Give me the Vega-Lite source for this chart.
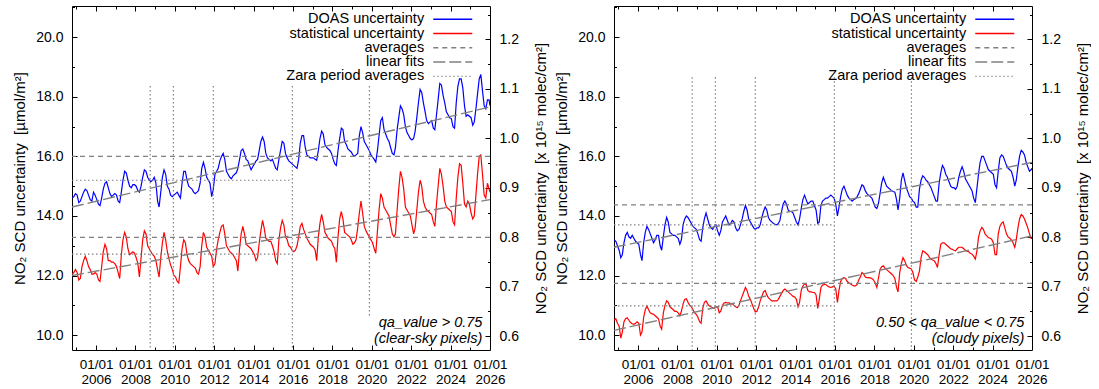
{
"$schema":"https://vega.github.io/schema/vega-lite/v6.json",
"background":"white",
"padding":{"left":12,"top":5,"right":0,"bottom":0},
"config":{"font":"Liberation Sans","view":{"stroke":"black","strokeWidth":1},
"axis":{"domain":false,"grid":false,"labelFont":"Liberation Sans","labelFontSize":14,"labelColor":"black","titleFont":"Liberation Sans","titleFontSize":15,"titleFontWeight":"normal","titleColor":"black","tickColor":"black","tickWidth":1},
"text":{"font":"Liberation Sans","color":"black"}},
"datasets":{
"L":[
{"d":"2004-10-15","a":14.6,"b":12.05},{"d":"2004-11-15","a":14.65,"b":12.1},{"d":"2004-12-15","a":14.75,"b":12.2},
{"d":"2005-01-15","a":14.7,"b":12.1},{"d":"2005-02-15","a":14.45,"b":11.85},{"d":"2005-03-15","a":14.5,"b":11.9},{"d":"2005-04-15","a":14.65,"b":12.3},{"d":"2005-05-15","a":14.8,"b":12.5},{"d":"2005-06-15","a":14.9,"b":12.65},{"d":"2005-07-15","a":14.85,"b":12.5},{"d":"2005-08-15","a":14.7,"b":12.3},{"d":"2005-09-15","a":14.55,"b":12.2},{"d":"2005-10-15","a":14.5,"b":12.05},{"d":"2005-11-15","a":14.8,"b":12.05},{"d":"2005-12-15","a":14.7,"b":12.1},
{"d":"2006-01-15","a":14.55,"b":12.05},{"d":"2006-02-15","a":14.4,"b":11.85},{"d":"2006-03-15","a":14.35,"b":11.8},{"d":"2006-04-15","a":14.6,"b":12.3},{"d":"2006-05-15","a":14.9,"b":12.8},{"d":"2006-06-15","a":15.1,"b":13.05},{"d":"2006-07-15","a":15.15,"b":12.9},{"d":"2006-08-15","a":14.95,"b":12.5},{"d":"2006-09-15","a":14.75,"b":12.5},{"d":"2006-10-15","a":14.65,"b":12.45},{"d":"2006-11-15","a":14.7,"b":12.45},{"d":"2006-12-15","a":14.75,"b":12.4},
{"d":"2007-01-15","a":14.7,"b":12.3},{"d":"2007-02-15","a":14.5,"b":12.1},{"d":"2007-03-15","a":14.45,"b":11.9},{"d":"2007-04-15","a":14.8,"b":12.7},{"d":"2007-05-15","a":15.2,"b":13.2},{"d":"2007-06-15","a":15.5,"b":13.45},{"d":"2007-07-15","a":15.45,"b":13.3},{"d":"2007-08-15","a":15.2,"b":12.9},{"d":"2007-09-15","a":15.0,"b":12.7},{"d":"2007-10-15","a":14.95,"b":12.75},{"d":"2007-11-15","a":15.05,"b":12.8},{"d":"2007-12-15","a":15.05,"b":12.75},
{"d":"2008-01-15","a":15.0,"b":12.6},{"d":"2008-02-15","a":14.85,"b":12.4},{"d":"2008-03-15","a":14.8,"b":11.95},{"d":"2008-04-15","a":15.0,"b":12.6},{"d":"2008-05-15","a":15.3,"b":13.2},{"d":"2008-06-15","a":15.55,"b":13.5},{"d":"2008-07-15","a":15.5,"b":13.4},{"d":"2008-08-15","a":15.3,"b":13.0},{"d":"2008-09-15","a":15.2,"b":12.9},{"d":"2008-10-15","a":15.15,"b":12.8},{"d":"2008-11-15","a":15.2,"b":12.7},{"d":"2008-12-15","a":15.3,"b":12.65},
{"d":"2009-01-15","a":15.1,"b":12.5},{"d":"2009-02-15","a":14.5,"b":12.2},{"d":"2009-03-15","a":14.3,"b":11.95},{"d":"2009-04-15","a":14.8,"b":12.6},{"d":"2009-05-15","a":15.3,"b":13.1},{"d":"2009-06-15","a":15.55,"b":13.45},{"d":"2009-07-15","a":15.4,"b":13.2},{"d":"2009-08-15","a":15.0,"b":12.8},{"d":"2009-09-15","a":14.9,"b":12.55},{"d":"2009-10-15","a":14.7,"b":12.35},{"d":"2009-11-15","a":14.65,"b":12.2},{"d":"2009-12-15","a":14.7,"b":12.0},
{"d":"2010-01-15","a":14.75,"b":11.95},{"d":"2010-02-15","a":14.8,"b":11.8},{"d":"2010-03-15","a":14.7,"b":11.75},{"d":"2010-04-15","a":14.6,"b":12.3},{"d":"2010-05-15","a":15.1,"b":12.9},{"d":"2010-06-15","a":15.5,"b":13.2},{"d":"2010-07-15","a":15.5,"b":13.1},{"d":"2010-08-15","a":15.2,"b":12.7},{"d":"2010-09-15","a":15.0,"b":12.5},{"d":"2010-10-15","a":14.95,"b":12.4},{"d":"2010-11-15","a":14.9,"b":12.35},{"d":"2010-12-15","a":14.8,"b":12.3},
{"d":"2011-01-15","a":14.75,"b":12.25},{"d":"2011-02-15","a":14.8,"b":12.1},{"d":"2011-03-15","a":14.85,"b":12.05},{"d":"2011-04-15","a":15.1,"b":12.3},{"d":"2011-05-15","a":15.6,"b":13.0},{"d":"2011-06-15","a":15.8,"b":13.45},{"d":"2011-07-15","a":15.6,"b":13.3},{"d":"2011-08-15","a":15.3,"b":12.95},{"d":"2011-09-15","a":15.2,"b":12.85},{"d":"2011-10-15","a":15.1,"b":12.75},{"d":"2011-11-15","a":14.65,"b":12.65},{"d":"2011-12-15","a":14.9,"b":12.3},
{"d":"2012-01-15","a":15.4,"b":12.4},{"d":"2012-02-15","a":15.5,"b":12.9},{"d":"2012-03-15","a":15.6,"b":13.2},{"d":"2012-04-15","a":15.85,"b":13.45},{"d":"2012-05-15","a":16.0,"b":13.65},{"d":"2012-06-15","a":16.1,"b":13.7},{"d":"2012-07-15","a":15.9,"b":13.4},{"d":"2012-08-15","a":15.5,"b":13.0},{"d":"2012-09-15","a":15.4,"b":12.9},{"d":"2012-10-15","a":15.3,"b":12.8},{"d":"2012-11-15","a":15.25,"b":12.75},{"d":"2012-12-15","a":15.35,"b":12.7},
{"d":"2013-01-15","a":15.4,"b":12.6},{"d":"2013-02-15","a":15.45,"b":12.5},{"d":"2013-03-15","a":15.6,"b":12.15},{"d":"2013-04-15","a":15.9,"b":12.9},{"d":"2013-05-15","a":16.2,"b":13.4},{"d":"2013-06-15","a":16.25,"b":13.65},{"d":"2013-07-15","a":16.1,"b":13.4},{"d":"2013-08-15","a":15.9,"b":13.05},{"d":"2013-09-15","a":15.85,"b":13.0},{"d":"2013-10-15","a":15.7,"b":12.95},{"d":"2013-11-15","a":15.55,"b":12.9},{"d":"2013-12-15","a":15.65,"b":12.8},
{"d":"2014-01-15","a":15.75,"b":12.7},{"d":"2014-02-15","a":15.85,"b":12.5},{"d":"2014-03-15","a":15.9,"b":12.6},{"d":"2014-04-15","a":16.2,"b":13.1},{"d":"2014-05-15","a":16.5,"b":13.5},{"d":"2014-06-15","a":16.65,"b":13.85},{"d":"2014-07-15","a":16.5,"b":13.6},{"d":"2014-08-15","a":16.1,"b":13.25},{"d":"2014-09-15","a":15.95,"b":13.2},{"d":"2014-10-15","a":15.9,"b":13.15},{"d":"2014-11-15","a":15.85,"b":13.15},{"d":"2014-12-15","a":15.9,"b":13.0},
{"d":"2015-01-15","a":15.75,"b":12.8},{"d":"2015-02-15","a":15.6,"b":12.5},{"d":"2015-03-15","a":15.55,"b":12.4},{"d":"2015-04-15","a":15.9,"b":13.2},{"d":"2015-05-15","a":16.2,"b":13.6},{"d":"2015-06-15","a":16.5,"b":13.85},{"d":"2015-07-15","a":16.45,"b":13.7},{"d":"2015-08-15","a":16.1,"b":13.3},{"d":"2015-09-15","a":15.95,"b":13.2},{"d":"2015-10-15","a":15.85,"b":13.0},{"d":"2015-11-15","a":15.8,"b":12.95},{"d":"2015-12-15","a":15.75,"b":12.85},
{"d":"2016-01-15","a":15.7,"b":12.8},{"d":"2016-02-15","a":15.65,"b":12.85},{"d":"2016-03-15","a":15.6,"b":13.0},{"d":"2016-04-15","a":15.9,"b":13.3},{"d":"2016-05-15","a":16.45,"b":13.65},{"d":"2016-06-15","a":16.7,"b":13.75},{"d":"2016-07-15","a":16.7,"b":13.55},{"d":"2016-08-15","a":16.3,"b":13.4},{"d":"2016-09-15","a":16.05,"b":13.25},{"d":"2016-10-15","a":16.0,"b":13.15},{"d":"2016-11-15","a":15.95,"b":13.05},{"d":"2016-12-15","a":15.95,"b":13.0},
{"d":"2017-01-15","a":15.95,"b":12.95},{"d":"2017-02-15","a":15.9,"b":12.85},{"d":"2017-03-15","a":15.87,"b":12.5},{"d":"2017-04-15","a":16.2,"b":13.3},{"d":"2017-05-15","a":16.6,"b":13.75},{"d":"2017-06-15","a":16.85,"b":14.05},{"d":"2017-07-15","a":16.75,"b":13.8},{"d":"2017-08-15","a":16.4,"b":13.45},{"d":"2017-09-15","a":16.3,"b":13.35},{"d":"2017-10-15","a":16.25,"b":13.25},{"d":"2017-11-15","a":16.2,"b":13.2},{"d":"2017-12-15","a":16.1,"b":13.15},
{"d":"2018-01-15","a":15.9,"b":13.0},{"d":"2018-02-15","a":15.75,"b":12.9},{"d":"2018-03-15","a":15.7,"b":12.45},{"d":"2018-04-15","a":16.2,"b":13.3},{"d":"2018-05-15","a":16.6,"b":13.9},{"d":"2018-06-15","a":16.95,"b":14.15},{"d":"2018-07-15","a":16.9,"b":13.9},{"d":"2018-08-15","a":16.5,"b":13.45},{"d":"2018-09-15","a":16.4,"b":13.4},{"d":"2018-10-15","a":16.25,"b":13.35},{"d":"2018-11-15","a":16.2,"b":13.3},{"d":"2018-12-15","a":16.15,"b":13.2},
{"d":"2019-01-15","a":16.05,"b":13.05},{"d":"2019-02-15","a":16.0,"b":13.1},{"d":"2019-03-15","a":16.05,"b":13.2},{"d":"2019-04-15","a":16.1,"b":13.6},{"d":"2019-05-15","a":16.7,"b":14.1},{"d":"2019-06-15","a":17.0,"b":14.5},{"d":"2019-07-15","a":16.8,"b":14.1},{"d":"2019-08-15","a":16.5,"b":13.65},{"d":"2019-09-15","a":16.4,"b":13.5},{"d":"2019-10-15","a":16.3,"b":13.4},{"d":"2019-11-15","a":16.2,"b":13.3},{"d":"2019-12-15","a":16.05,"b":13.2},
{"d":"2020-01-15","a":15.98,"b":13.1},{"d":"2020-02-15","a":15.9,"b":12.9},{"d":"2020-03-15","a":15.81,"b":12.75},{"d":"2020-04-15","a":16.2,"b":13.5},{"d":"2020-05-15","a":16.7,"b":14.2},{"d":"2020-06-15","a":17.2,"b":14.75},{"d":"2020-07-15","a":17.3,"b":14.6},{"d":"2020-08-15","a":16.9,"b":14.3},{"d":"2020-09-15","a":16.75,"b":14.2},{"d":"2020-10-15","a":16.6,"b":14.1},{"d":"2020-11-15","a":16.5,"b":14.0},{"d":"2020-12-15","a":16.3,"b":13.7},
{"d":"2021-01-15","a":16.1,"b":13.4},{"d":"2021-02-15","a":16.05,"b":13.3},{"d":"2021-03-15","a":16.3,"b":13.4},{"d":"2021-04-15","a":16.9,"b":14.2},{"d":"2021-05-15","a":17.3,"b":14.9},{"d":"2021-06-15","a":17.7,"b":15.5},{"d":"2021-07-15","a":17.6,"b":15.3},{"d":"2021-08-15","a":17.4,"b":14.9},{"d":"2021-09-15","a":17.0,"b":14.3},{"d":"2021-10-15","a":16.8,"b":14.2},{"d":"2021-11-15","a":16.7,"b":14.1},{"d":"2021-12-15","a":16.6,"b":14.0},
{"d":"2022-01-15","a":16.55,"b":13.7},{"d":"2022-02-15","a":16.6,"b":13.4},{"d":"2022-03-15","a":16.85,"b":13.6},{"d":"2022-04-15","a":17.3,"b":14.2},{"d":"2022-05-15","a":17.8,"b":14.8},{"d":"2022-06-15","a":18.25,"b":15.2},{"d":"2022-07-15","a":18.15,"b":15.0},{"d":"2022-08-15","a":17.8,"b":14.5},{"d":"2022-09-15","a":17.5,"b":14.3},{"d":"2022-10-15","a":17.2,"b":14.2},{"d":"2022-11-15","a":17.1,"b":14.15},{"d":"2022-12-15","a":17.15,"b":14.1},
{"d":"2023-01-15","a":17.2,"b":14.05},{"d":"2023-02-15","a":16.95,"b":13.8},{"d":"2023-03-15","a":16.9,"b":13.65},{"d":"2023-04-15","a":17.4,"b":14.4},{"d":"2023-05-15","a":17.9,"b":15.0},{"d":"2023-06-15","a":18.45,"b":15.6},{"d":"2023-07-15","a":18.4,"b":15.4},{"d":"2023-08-15","a":18.05,"b":15.0},{"d":"2023-09-15","a":17.8,"b":14.5},{"d":"2023-10-15","a":17.5,"b":14.3},{"d":"2023-11-15","a":17.4,"b":14.25},{"d":"2023-12-15","a":17.3,"b":14.2},
{"d":"2024-01-15","a":17.27,"b":14.15},{"d":"2024-02-15","a":17.0,"b":13.8},{"d":"2024-03-15","a":16.95,"b":13.7},{"d":"2024-04-15","a":17.8,"b":14.6},{"d":"2024-05-15","a":18.35,"b":15.3},{"d":"2024-06-15","a":18.6,"b":15.75},{"d":"2024-07-15","a":18.6,"b":15.7},{"d":"2024-08-15","a":18.3,"b":15.1},{"d":"2024-09-15","a":17.7,"b":14.4},{"d":"2024-10-15","a":17.35,"b":14.3},{"d":"2024-11-15","a":17.4,"b":14.5},{"d":"2024-12-15","a":17.35,"b":14.4},
{"d":"2025-01-15","a":17.3,"b":14.1},{"d":"2025-02-15","a":17.05,"b":13.9},{"d":"2025-03-15","a":17.15,"b":14.0},{"d":"2025-04-15","a":17.6,"b":14.7},{"d":"2025-05-15","a":18.1,"b":15.4},{"d":"2025-06-15","a":18.6,"b":16.0},{"d":"2025-07-15","a":18.75,"b":16.05},{"d":"2025-08-15","a":18.2,"b":15.4},{"d":"2025-09-15","a":17.7,"b":14.7},{"d":"2025-10-15","a":17.6,"b":14.6},{"d":"2025-11-15","a":17.9,"b":15.1},{"d":"2025-12-15","a":17.9,"b":14.9},
{"d":"2026-01-01","a":17.7,"b":14.8}
],
"R":[
{"d":"2004-10-15","a":13.2,"b":10.5},{"d":"2004-11-15","a":13.15,"b":10.55},{"d":"2004-12-15","a":13.0,"b":10.4},
{"d":"2005-01-15","a":12.85,"b":10.3},{"d":"2005-02-15","a":12.6,"b":9.9},{"d":"2005-03-15","a":12.7,"b":10.1},{"d":"2005-04-15","a":13.1,"b":10.45},{"d":"2005-05-15","a":13.35,"b":10.55},{"d":"2005-06-15","a":13.45,"b":10.58},{"d":"2005-07-15","a":13.3,"b":10.5},{"d":"2005-08-15","a":13.25,"b":10.42},{"d":"2005-09-15","a":13.35,"b":10.38},{"d":"2005-10-15","a":13.25,"b":10.36},{"d":"2005-11-15","a":13.15,"b":10.4},{"d":"2005-12-15","a":13.1,"b":10.45},
{"d":"2006-01-15","a":13.05,"b":10.4},{"d":"2006-02-15","a":12.7,"b":10.0},{"d":"2006-03-15","a":12.5,"b":10.1},{"d":"2006-04-15","a":13.1,"b":10.6},{"d":"2006-05-15","a":13.45,"b":10.85},{"d":"2006-06-15","a":13.65,"b":10.98},{"d":"2006-07-15","a":13.55,"b":10.85},{"d":"2006-08-15","a":13.4,"b":10.75},{"d":"2006-09-15","a":13.25,"b":10.72},{"d":"2006-10-15","a":13.1,"b":10.7},{"d":"2006-11-15","a":13.2,"b":10.65},{"d":"2006-12-15","a":13.35,"b":10.6},
{"d":"2007-01-15","a":13.35,"b":10.55},{"d":"2007-02-15","a":13.0,"b":10.3},{"d":"2007-03-15","a":12.85,"b":10.2},{"d":"2007-04-15","a":13.3,"b":10.75},{"d":"2007-05-15","a":13.7,"b":11.0},{"d":"2007-06-15","a":13.95,"b":11.15},{"d":"2007-07-15","a":13.8,"b":11.1},{"d":"2007-08-15","a":13.45,"b":10.95},{"d":"2007-09-15","a":13.4,"b":10.9},{"d":"2007-10-15","a":13.35,"b":10.85},{"d":"2007-11-15","a":13.35,"b":10.8},{"d":"2007-12-15","a":13.3,"b":10.8},
{"d":"2008-01-15","a":13.25,"b":10.75},{"d":"2008-02-15","a":13.05,"b":10.65},{"d":"2008-03-15","a":13.2,"b":10.8},{"d":"2008-04-15","a":13.7,"b":11.05},{"d":"2008-05-15","a":13.9,"b":11.2},{"d":"2008-06-15","a":14.0,"b":11.22},{"d":"2008-07-15","a":13.95,"b":11.1},{"d":"2008-08-15","a":13.85,"b":11.0},{"d":"2008-09-15","a":13.75,"b":10.95},{"d":"2008-10-15","a":13.65,"b":10.85},{"d":"2008-11-15","a":13.6,"b":10.75},{"d":"2008-12-15","a":13.55,"b":10.7},
{"d":"2009-01-15","a":13.4,"b":10.6},{"d":"2009-02-15","a":13.2,"b":10.45},{"d":"2009-03-15","a":13.15,"b":10.4},{"d":"2009-04-15","a":13.6,"b":10.9},{"d":"2009-05-15","a":13.9,"b":11.1},{"d":"2009-06-15","a":14.1,"b":11.15},{"d":"2009-07-15","a":13.9,"b":11.05},{"d":"2009-08-15","a":13.7,"b":10.98},{"d":"2009-09-15","a":13.6,"b":10.95},{"d":"2009-10-15","a":13.55,"b":10.92},{"d":"2009-11-15","a":13.65,"b":10.9},{"d":"2009-12-15","a":13.7,"b":10.95},
{"d":"2010-01-15","a":13.5,"b":10.95},{"d":"2010-02-15","a":13.35,"b":10.75},{"d":"2010-03-15","a":13.5,"b":10.8},{"d":"2010-04-15","a":13.8,"b":11.0},{"d":"2010-05-15","a":13.9,"b":11.08},{"d":"2010-06-15","a":14.0,"b":11.1},{"d":"2010-07-15","a":13.85,"b":11.08},{"d":"2010-08-15","a":13.7,"b":11.08},{"d":"2010-09-15","a":13.75,"b":11.05},{"d":"2010-10-15","a":13.85,"b":11.05},{"d":"2010-11-15","a":13.8,"b":11.0},{"d":"2010-12-15","a":13.6,"b":10.95},
{"d":"2011-01-15","a":13.5,"b":10.92},{"d":"2011-02-15","a":13.55,"b":11.0},{"d":"2011-03-15","a":13.7,"b":11.15},{"d":"2011-04-15","a":13.9,"b":11.3},{"d":"2011-05-15","a":14.15,"b":11.45},{"d":"2011-06-15","a":14.35,"b":11.6},{"d":"2011-07-15","a":14.2,"b":11.5},{"d":"2011-08-15","a":13.9,"b":11.3},{"d":"2011-09-15","a":13.8,"b":11.2},{"d":"2011-10-15","a":13.7,"b":11.05},{"d":"2011-11-15","a":13.6,"b":10.9},{"d":"2011-12-15","a":13.55,"b":10.78},
{"d":"2012-01-15","a":13.6,"b":10.8},{"d":"2012-02-15","a":13.6,"b":10.95},{"d":"2012-03-15","a":13.7,"b":11.15},{"d":"2012-04-15","a":13.95,"b":11.3},{"d":"2012-05-15","a":14.15,"b":11.45},{"d":"2012-06-15","a":14.3,"b":11.5},{"d":"2012-07-15","a":14.2,"b":11.35},{"d":"2012-08-15","a":13.95,"b":11.25},{"d":"2012-09-15","a":13.85,"b":11.2},{"d":"2012-10-15","a":13.8,"b":11.15},{"d":"2012-11-15","a":13.75,"b":11.15},{"d":"2012-12-15","a":13.72,"b":11.15},
{"d":"2013-01-15","a":13.7,"b":11.15},{"d":"2013-02-15","a":13.75,"b":11.2},{"d":"2013-03-15","a":13.85,"b":11.3},{"d":"2013-04-15","a":14.15,"b":11.4},{"d":"2013-05-15","a":14.4,"b":11.5},{"d":"2013-06-15","a":14.5,"b":11.55},{"d":"2013-07-15","a":14.4,"b":11.5},{"d":"2013-08-15","a":14.2,"b":11.45},{"d":"2013-09-15","a":14.15,"b":11.4},{"d":"2013-10-15","a":14.15,"b":11.35},{"d":"2013-11-15","a":14.1,"b":11.3},{"d":"2013-12-15","a":13.95,"b":11.28},
{"d":"2014-01-15","a":13.8,"b":11.2},{"d":"2014-02-15","a":13.7,"b":10.95},{"d":"2014-03-15","a":13.9,"b":11.1},{"d":"2014-04-15","a":14.25,"b":11.5},{"d":"2014-05-15","a":14.55,"b":11.65},{"d":"2014-06-15","a":14.7,"b":11.72},{"d":"2014-07-15","a":14.55,"b":11.7},{"d":"2014-08-15","a":14.4,"b":11.5},{"d":"2014-09-15","a":14.45,"b":11.45},{"d":"2014-10-15","a":14.5,"b":11.45},{"d":"2014-11-15","a":14.5,"b":11.43},{"d":"2014-12-15","a":14.35,"b":11.43},
{"d":"2015-01-15","a":14.2,"b":11.35},{"d":"2015-02-15","a":13.75,"b":10.9},{"d":"2015-03-15","a":13.8,"b":11.2},{"d":"2015-04-15","a":14.35,"b":11.6},{"d":"2015-05-15","a":14.5,"b":11.68},{"d":"2015-06-15","a":14.55,"b":11.7},{"d":"2015-07-15","a":14.6,"b":11.7},{"d":"2015-08-15","a":14.6,"b":11.65},{"d":"2015-09-15","a":14.65,"b":11.62},{"d":"2015-10-15","a":14.7,"b":11.6},{"d":"2015-11-15","a":14.65,"b":11.62},{"d":"2015-12-15","a":14.6,"b":11.65},
{"d":"2016-01-15","a":14.4,"b":11.55},{"d":"2016-02-15","a":14.0,"b":11.1},{"d":"2016-03-15","a":14.3,"b":11.5},{"d":"2016-04-15","a":14.65,"b":11.8},{"d":"2016-05-15","a":14.9,"b":11.9},{"d":"2016-06-15","a":15.0,"b":11.93},{"d":"2016-07-15","a":14.85,"b":11.9},{"d":"2016-08-15","a":14.7,"b":11.8},{"d":"2016-09-15","a":14.6,"b":11.75},{"d":"2016-10-15","a":14.55,"b":11.72},{"d":"2016-11-15","a":14.5,"b":11.68},{"d":"2016-12-15","a":14.55,"b":11.65},
{"d":"2017-01-15","a":14.58,"b":11.65},{"d":"2017-02-15","a":14.65,"b":11.7},{"d":"2017-03-15","a":14.75,"b":11.85},{"d":"2017-04-15","a":14.9,"b":11.95},{"d":"2017-05-15","a":15.05,"b":12.1},{"d":"2017-06-15","a":15.0,"b":12.05},{"d":"2017-07-15","a":14.85,"b":11.95},{"d":"2017-08-15","a":14.75,"b":11.93},{"d":"2017-09-15","a":14.7,"b":11.93},{"d":"2017-10-15","a":14.65,"b":11.92},{"d":"2017-11-15","a":14.6,"b":11.9},{"d":"2017-12-15","a":14.45,"b":11.85},
{"d":"2018-01-15","a":14.3,"b":11.75},{"d":"2018-02-15","a":14.25,"b":11.6},{"d":"2018-03-15","a":14.4,"b":11.9},{"d":"2018-04-15","a":14.75,"b":12.2},{"d":"2018-05-15","a":15.1,"b":12.3},{"d":"2018-06-15","a":15.3,"b":12.33},{"d":"2018-07-15","a":15.15,"b":12.25},{"d":"2018-08-15","a":15.0,"b":12.2},{"d":"2018-09-15","a":14.95,"b":12.15},{"d":"2018-10-15","a":14.9,"b":12.1},{"d":"2018-11-15","a":14.85,"b":12.05},{"d":"2018-12-15","a":14.82,"b":12.0},
{"d":"2019-01-15","a":14.8,"b":11.9},{"d":"2019-02-15","a":14.55,"b":11.6},{"d":"2019-03-15","a":14.2,"b":11.45},{"d":"2019-04-15","a":14.6,"b":12.1},{"d":"2019-05-15","a":15.2,"b":12.4},{"d":"2019-06-15","a":15.45,"b":12.6},{"d":"2019-07-15","a":15.2,"b":12.5},{"d":"2019-08-15","a":14.95,"b":12.35},{"d":"2019-09-15","a":14.8,"b":12.27},{"d":"2019-10-15","a":14.65,"b":12.25},{"d":"2019-11-15","a":14.6,"b":12.22},{"d":"2019-12-15","a":14.5,"b":12.1},
{"d":"2020-01-15","a":14.45,"b":11.85},{"d":"2020-02-15","a":14.3,"b":11.8},{"d":"2020-03-15","a":14.3,"b":11.95},{"d":"2020-04-15","a":14.9,"b":12.15},{"d":"2020-05-15","a":15.2,"b":12.6},{"d":"2020-06-15","a":15.35,"b":12.83},{"d":"2020-07-15","a":15.3,"b":12.8},{"d":"2020-08-15","a":15.2,"b":12.75},{"d":"2020-09-15","a":15.15,"b":12.7},{"d":"2020-10-15","a":15.05,"b":12.62},{"d":"2020-11-15","a":14.95,"b":12.55},{"d":"2020-12-15","a":14.8,"b":12.52},
{"d":"2021-01-15","a":14.65,"b":12.5},{"d":"2021-02-15","a":14.5,"b":12.4},{"d":"2021-03-15","a":14.5,"b":12.27},{"d":"2021-04-15","a":15.1,"b":12.7},{"d":"2021-05-15","a":15.45,"b":13.05},{"d":"2021-06-15","a":15.7,"b":13.1},{"d":"2021-07-15","a":15.6,"b":13.1},{"d":"2021-08-15","a":15.4,"b":13.05},{"d":"2021-09-15","a":15.3,"b":13.0},{"d":"2021-10-15","a":15.15,"b":12.95},{"d":"2021-11-15","a":15.0,"b":12.9},{"d":"2021-12-15","a":14.95,"b":12.88},
{"d":"2022-01-15","a":14.95,"b":12.85},{"d":"2022-02-15","a":14.9,"b":12.83},{"d":"2022-03-15","a":15.0,"b":12.9},{"d":"2022-04-15","a":15.3,"b":12.95},{"d":"2022-05-15","a":15.5,"b":12.95},{"d":"2022-06-15","a":15.65,"b":12.95},{"d":"2022-07-15","a":15.5,"b":12.9},{"d":"2022-08-15","a":15.25,"b":12.85},{"d":"2022-09-15","a":15.15,"b":12.82},{"d":"2022-10-15","a":15.05,"b":12.8},{"d":"2022-11-15","a":14.95,"b":12.75},{"d":"2022-12-15","a":14.85,"b":12.72},
{"d":"2023-01-15","a":14.6,"b":12.65},{"d":"2023-02-15","a":14.45,"b":12.55},{"d":"2023-03-15","a":14.9,"b":12.8},{"d":"2023-04-15","a":15.4,"b":13.28},{"d":"2023-05-15","a":15.8,"b":13.5},{"d":"2023-06-15","a":16.0,"b":13.62},{"d":"2023-07-15","a":16.0,"b":13.55},{"d":"2023-08-15","a":15.85,"b":13.4},{"d":"2023-09-15","a":15.7,"b":13.33},{"d":"2023-10-15","a":15.55,"b":13.28},{"d":"2023-11-15","a":15.5,"b":13.25},{"d":"2023-12-15","a":15.45,"b":13.22},
{"d":"2024-01-15","a":15.4,"b":13.1},{"d":"2024-02-15","a":15.05,"b":12.7},{"d":"2024-03-15","a":14.95,"b":12.7},{"d":"2024-04-15","a":15.5,"b":13.4},{"d":"2024-05-15","a":15.95,"b":13.65},{"d":"2024-06-15","a":16.05,"b":13.75},{"d":"2024-07-15","a":16.0,"b":13.8},{"d":"2024-08-15","a":15.85,"b":13.6},{"d":"2024-09-15","a":15.7,"b":13.4},{"d":"2024-10-15","a":15.6,"b":13.3},{"d":"2024-11-15","a":15.55,"b":13.25},{"d":"2024-12-15","a":15.5,"b":13.2},
{"d":"2025-01-15","a":15.3,"b":13.1},{"d":"2025-02-15","a":15.0,"b":12.95},{"d":"2025-03-15","a":15.2,"b":13.2},{"d":"2025-04-15","a":15.65,"b":13.6},{"d":"2025-05-15","a":16.0,"b":13.9},{"d":"2025-06-15","a":16.2,"b":14.05},{"d":"2025-07-15","a":16.15,"b":14.0},{"d":"2025-08-15","a":16.05,"b":13.9},{"d":"2025-09-15","a":15.8,"b":13.75},{"d":"2025-10-15","a":15.65,"b":13.6},{"d":"2025-11-15","a":15.5,"b":13.4},{"d":"2025-12-15","a":15.55,"b":13.25},
{"d":"2026-01-01","a":15.6,"b":13.25}
],
"ONE":[{}]
},
"spacing":5,
"hconcat":[
{
"width":418,"height":344,
"layer":[
{"data":{"name":"L"},"mark":{"type":"line","color":"#0000ff","strokeWidth":1.2,"clip":true},
"encoding":{"x":{"field":"d","type":"temporal","scale":{"type":"utc","domain":[1097539200000,1767225600000]},"axis":{"orient":"bottom","values":[1136073600000,1199145600000,1262304000000,1325376000000,1388534400000,1451606400000,1514764800000,1577836800000,1640995200000,1704067200000,1767225600000],"ticks":false,"labelExpr":"['01/01', utcFormat(datum.value, '%Y')]","labelFontSize":13.5,"labelPadding":7,"labelLineHeight":15,"labelFlush":false,"labelOverlap":false,"labelBaseline":"top","title":null}},
"y":{"field":"a","type":"quantitative","scale":{"domain":[9.5,21.05],"nice":false,"zero":false},"axis":{"orient":"left","values":[10,12,14,16,18,20],"format":".1f","ticks":false,"labelPadding":9,"title":"NO₂ SCD uncertainty\u00a0 [µmol/m²]","titlePadding":8}}}},
{"data":{"name":"L"},"mark":{"type":"line","color":"#ff0000","strokeWidth":1.2,"clip":true},
"encoding":{"x":{"field":"d","type":"temporal","axis":null},"y":{"field":"b","type":"quantitative","axis":null}}},
{"data":{"values":[{"v":16.0},{"v":13.28}]},"mark":{"type":"rule","color":"#808080","strokeWidth":1.3,"strokeDash":[5,4]},
"encoding":{"y":{"field":"v","type":"quantitative","axis":null}}},
{"data":{"values":[{"d":"2004-10-12","d2":"2015-12-20","v":15.2},{"d":"2004-10-12","d2":"2015-12-20","v":12.72}],"format":{"parse":{"d":"utc:'%Y-%m-%d'","d2":"utc:'%Y-%m-%d'"}}},"mark":{"type":"rule","color":"#808080","strokeWidth":1.2,"strokeDash":[1.5,2.5]},
"encoding":{"x":{"field":"d","type":"temporal","axis":null},"x2":{"field":"d2"},"y":{"field":"v","type":"quantitative","axis":null}}},
{"data":{"values":[{"k":"a","d":"2004-10-12","v":14.3},{"k":"a","d":"2026-01-01","v":17.66},{"k":"b","d":"2004-10-12","v":12.0},{"k":"b","d":"2026-01-01","v":14.55}],"format":{"parse":{"d":"utc:'%Y-%m-%d'"}}},"mark":{"type":"line","color":"#808080","strokeWidth":1.4,"strokeDash":[12,4]},
"encoding":{"x":{"field":"d","type":"temporal","axis":null},"y":{"field":"v","type":"quantitative","axis":null},"detail":{"field":"k"}}},
{"data":{"values":[{"d":"2008-10-01","t":18.36,"u":9.5},{"d":"2009-12-05","t":18.36,"u":9.5},{"d":"2011-12-15","t":18.36,"u":9.5},{"d":"2015-12-20","t":18.36,"u":9.5},{"d":"2019-11-18","t":18.36,"u":10.64}],"format":{"parse":{"d":"utc:'%Y-%m-%d'"}}},"mark":{"type":"rule","color":"#808080","strokeWidth":1.2,"strokeDash":[1.5,2.5]},
"encoding":{"x":{"field":"d","type":"temporal","axis":null},"y":{"field":"t","type":"quantitative","axis":null},"y2":{"field":"u"}}},
{"data":{"name":"ONE"},"mark":{"type":"text","align":"right","baseline":"top","dx":-7.6,"fontSize":14.5,"fontStyle":"italic","lineHeight":15.5,"text":["qa_value > 0.75","(clear-sky pixels)"]},
"encoding":{"x":{"datum":1767225600000,"type":"temporal","axis":null},"y":{"datum":10.63,"type":"quantitative","axis":null}}},
{"data":{"name":"ONE"},"mark":{"type":"point","opacity":0},
"encoding":{"x":{"datum":1451606400000,"type":"temporal","axis":{"orient":"bottom","values":[1136073600000,1199145600000,1262304000000,1325376000000,1388534400000,1451606400000,1514764800000,1577836800000,1640995200000,1704067200000],"labels":false,"tickSize":-5,"title":null}},
"y":{"datum":15,"type":"quantitative","axis":{"orient":"left","values":[10,12,14,16,18,20],"labels":false,"tickSize":-5,"title":null}}}},
{"data":{"name":"ONE"},"mark":{"type":"point","opacity":0},
"encoding":{"x":{"datum":1451606400000,"type":"temporal","axis":{"orient":"bottom","values":[1104537600000,1167609600000,1230768000000,1293840000000,1356998400000,1420070400000,1483228800000,1546300800000,1609459200000,1672531200000,1735689600000],"labels":false,"tickSize":-3,"title":null}},
"y":{"datum":15,"type":"quantitative","axis":{"orient":"left","values":[11,13,15,17,19,21],"labels":false,"tickSize":-2.5,"title":null}}}},
{"data":{"name":"ONE"},"mark":{"type":"point","opacity":0},
"encoding":{"x":{"datum":1451606400000,"type":"temporal","axis":{"orient":"top","values":[1136073600000,1199145600000,1262304000000,1325376000000,1388534400000,1451606400000,1514764800000,1577836800000,1640995200000,1704067200000],"labels":false,"tickSize":-5,"title":null}},
"y":{"datum":15,"type":"quantitative","axis":{"orient":"right","values":[9.9635,11.624,13.2846,14.9452,16.6058,18.2663,19.9269],"labels":false,"tickSize":-5,"title":null}}}},
{"data":{"name":"ONE"},"mark":{"type":"point","opacity":0},
"encoding":{"x":{"datum":1451606400000,"type":"temporal","axis":{"orient":"top","values":[1104537600000,1167609600000,1230768000000,1293840000000,1356998400000,1420070400000,1483228800000,1546300800000,1609459200000,1672531200000,1735689600000],"labels":false,"tickSize":-3,"title":null}},
"y":{"datum":15,"type":"quantitative","axis":{"orient":"right","values":[10.7937,12.4543,14.1149,15.7755,17.4361,19.0966,20.7572],"labels":false,"tickSize":-2.5,"title":null}}}},
{"data":{"name":"ONE"},"mark":{"type":"point","opacity":0},
"encoding":{"x":{"datum":1451606400000,"type":"temporal","axis":null},
"y":{"datum":15,"type":"quantitative","axis":{"orient":"right","values":[9.9635,11.624,13.2846,14.9452,16.6058,18.2663,19.9269],"labelExpr":"format(datum.value * 0.06022, '.1f')","ticks":false,"labelPadding":9,"title":"NO₂ SCD uncertainty\u00a0 [x 10¹⁵ molec/cm²]","titleAngle":270,"titleBaseline":"top","titlePadding":15}}}},
{"data":{"name":"ONE"},"mark":{"type":"rule","color":"#0000ff","strokeWidth":1.3},"encoding":{"x":{"datum":1676332800000,"type":"temporal","axis":null},"x2":{"datum":1738800000000},"y":{"datum":20.605,"type":"quantitative","axis":null}}},
{"data":{"name":"ONE"},"mark":{"type":"rule","color":"#ff0000","strokeWidth":1.3},"encoding":{"x":{"datum":1676332800000,"type":"temporal","axis":null},"x2":{"datum":1738800000000},"y":{"datum":20.126,"type":"quantitative","axis":null}}},
{"data":{"name":"ONE"},"mark":{"type":"rule","color":"#808080","strokeWidth":1.3,"strokeDash":[5,4]},"encoding":{"x":{"datum":1676332800000,"type":"temporal","axis":null},"x2":{"datum":1738800000000},"y":{"datum":19.648,"type":"quantitative","axis":null}}},
{"data":{"name":"ONE"},"mark":{"type":"rule","color":"#808080","strokeWidth":1.4,"strokeDash":[12,4]},"encoding":{"x":{"datum":1676332800000,"type":"temporal","axis":null},"x2":{"datum":1738800000000},"y":{"datum":19.169,"type":"quantitative","axis":null}}},
{"data":{"name":"ONE"},"mark":{"type":"rule","color":"#808080","strokeWidth":1.2,"strokeDash":[1.5,2.5]},"encoding":{"x":{"datum":1676332800000,"type":"temporal","axis":null},"x2":{"datum":1738800000000},"y":{"datum":18.691,"type":"quantitative","axis":null}}},
{"data":{"name":"ONE"},"mark":{"type":"text","align":"right","baseline":"middle","fontSize":14.5,"lineHeight":14.25,"text":["DOAS uncertainty","statistical uncertainty","averages","linear fits","Zara period averages"]},
"encoding":{"x":{"datum":1661731200000,"type":"temporal","axis":null},"y":{"datum":20.605,"type":"quantitative","axis":null}}}
],
"resolve":{"axis":{"x":"independent","y":"independent"}}
},
{
"width":418,"height":344,
"layer":[
{"data":{"name":"R"},"mark":{"type":"line","color":"#0000ff","strokeWidth":1.2,"clip":true},
"encoding":{"x":{"field":"d","type":"temporal","scale":{"type":"utc","domain":[1097539200000,1767225600000]},"axis":{"orient":"bottom","values":[1136073600000,1199145600000,1262304000000,1325376000000,1388534400000,1451606400000,1514764800000,1577836800000,1640995200000,1704067200000,1767225600000],"ticks":false,"labelExpr":"['01/01', utcFormat(datum.value, '%Y')]","labelFontSize":13.5,"labelPadding":7,"labelLineHeight":15,"labelFlush":false,"labelOverlap":false,"labelBaseline":"top","title":null}},
"y":{"field":"a","type":"quantitative","scale":{"domain":[9.5,21.05],"nice":false,"zero":false},"axis":{"orient":"left","values":[10,12,14,16,18,20],"format":".1f","ticks":false,"labelPadding":9,"title":"NO₂ SCD uncertainty\u00a0 [µmol/m²]","titlePadding":8}}}},
{"data":{"name":"R"},"mark":{"type":"line","color":"#ff0000","strokeWidth":1.2,"clip":true},
"encoding":{"x":{"field":"d","type":"temporal","axis":null},"y":{"field":"b","type":"quantitative","axis":null}}},
{"data":{"values":[{"v":14.37},{"v":11.74}]},"mark":{"type":"rule","color":"#808080","strokeWidth":1.3,"strokeDash":[5,4]},
"encoding":{"y":{"field":"v","type":"quantitative","axis":null}}},
{"data":{"values":[{"d":"2004-10-12","d2":"2015-12-20","v":13.7},{"d":"2004-10-12","d2":"2015-12-20","v":10.98}],"format":{"parse":{"d":"utc:'%Y-%m-%d'","d2":"utc:'%Y-%m-%d'"}}},"mark":{"type":"rule","color":"#808080","strokeWidth":1.2,"strokeDash":[1.5,2.5]},
"encoding":{"x":{"field":"d","type":"temporal","axis":null},"x2":{"field":"d2"},"y":{"field":"v","type":"quantitative","axis":null}}},
{"data":{"values":[{"k":"a","d":"2004-10-12","v":12.95},{"k":"a","d":"2026-01-01","v":15.8},{"k":"b","d":"2004-10-12","v":10.16},{"k":"b","d":"2026-01-01","v":13.33}],"format":{"parse":{"d":"utc:'%Y-%m-%d'"}}},"mark":{"type":"line","color":"#808080","strokeWidth":1.4,"strokeDash":[12,4]},
"encoding":{"x":{"field":"d","type":"temporal","axis":null},"y":{"field":"v","type":"quantitative","axis":null},"detail":{"field":"k"}}},
{"data":{"values":[{"d":"2008-10-01","t":18.66,"u":9.5},{"d":"2009-12-05","t":18.66,"u":9.5},{"d":"2011-12-15","t":18.66,"u":9.5},{"d":"2015-12-20","t":18.66,"u":9.5},{"d":"2019-11-18","t":18.66,"u":9.5}],"format":{"parse":{"d":"utc:'%Y-%m-%d'"}}},"mark":{"type":"rule","color":"#808080","strokeWidth":1.2,"strokeDash":[1.5,2.5]},
"encoding":{"x":{"field":"d","type":"temporal","axis":null},"y":{"field":"t","type":"quantitative","axis":null},"y2":{"field":"u"}}},
{"data":{"name":"ONE"},"mark":{"type":"text","align":"right","baseline":"top","dx":-7.6,"fontSize":14.5,"fontStyle":"italic","lineHeight":15.5,"text":["0.50 < qa_value < 0.75","(cloudy pixels)"]},
"encoding":{"x":{"datum":1767225600000,"type":"temporal","axis":null},"y":{"datum":10.63,"type":"quantitative","axis":null}}},
{"data":{"name":"ONE"},"mark":{"type":"point","opacity":0},
"encoding":{"x":{"datum":1451606400000,"type":"temporal","axis":{"orient":"bottom","values":[1136073600000,1199145600000,1262304000000,1325376000000,1388534400000,1451606400000,1514764800000,1577836800000,1640995200000,1704067200000],"labels":false,"tickSize":-5,"title":null}},
"y":{"datum":15,"type":"quantitative","axis":{"orient":"left","values":[10,12,14,16,18,20],"labels":false,"tickSize":-5,"title":null}}}},
{"data":{"name":"ONE"},"mark":{"type":"point","opacity":0},
"encoding":{"x":{"datum":1451606400000,"type":"temporal","axis":{"orient":"bottom","values":[1104537600000,1167609600000,1230768000000,1293840000000,1356998400000,1420070400000,1483228800000,1546300800000,1609459200000,1672531200000,1735689600000],"labels":false,"tickSize":-3,"title":null}},
"y":{"datum":15,"type":"quantitative","axis":{"orient":"left","values":[11,13,15,17,19,21],"labels":false,"tickSize":-2.5,"title":null}}}},
{"data":{"name":"ONE"},"mark":{"type":"point","opacity":0},
"encoding":{"x":{"datum":1451606400000,"type":"temporal","axis":{"orient":"top","values":[1136073600000,1199145600000,1262304000000,1325376000000,1388534400000,1451606400000,1514764800000,1577836800000,1640995200000,1704067200000],"labels":false,"tickSize":-5,"title":null}},
"y":{"datum":15,"type":"quantitative","axis":{"orient":"right","values":[9.9635,11.624,13.2846,14.9452,16.6058,18.2663,19.9269],"labels":false,"tickSize":-5,"title":null}}}},
{"data":{"name":"ONE"},"mark":{"type":"point","opacity":0},
"encoding":{"x":{"datum":1451606400000,"type":"temporal","axis":{"orient":"top","values":[1104537600000,1167609600000,1230768000000,1293840000000,1356998400000,1420070400000,1483228800000,1546300800000,1609459200000,1672531200000,1735689600000],"labels":false,"tickSize":-3,"title":null}},
"y":{"datum":15,"type":"quantitative","axis":{"orient":"right","values":[10.7937,12.4543,14.1149,15.7755,17.4361,19.0966,20.7572],"labels":false,"tickSize":-2.5,"title":null}}}},
{"data":{"name":"ONE"},"mark":{"type":"point","opacity":0},
"encoding":{"x":{"datum":1451606400000,"type":"temporal","axis":null},
"y":{"datum":15,"type":"quantitative","axis":{"orient":"right","values":[9.9635,11.624,13.2846,14.9452,16.6058,18.2663,19.9269],"labelExpr":"format(datum.value * 0.06022, '.1f')","ticks":false,"labelPadding":9,"title":"NO₂ SCD uncertainty\u00a0 [x 10¹⁵ molec/cm²]","titleAngle":270,"titleBaseline":"top","titlePadding":15}}}},
{"data":{"name":"ONE"},"mark":{"type":"rule","color":"#0000ff","strokeWidth":1.3},"encoding":{"x":{"datum":1676332800000,"type":"temporal","axis":null},"x2":{"datum":1738800000000},"y":{"datum":20.605,"type":"quantitative","axis":null}}},
{"data":{"name":"ONE"},"mark":{"type":"rule","color":"#ff0000","strokeWidth":1.3},"encoding":{"x":{"datum":1676332800000,"type":"temporal","axis":null},"x2":{"datum":1738800000000},"y":{"datum":20.126,"type":"quantitative","axis":null}}},
{"data":{"name":"ONE"},"mark":{"type":"rule","color":"#808080","strokeWidth":1.3,"strokeDash":[5,4]},"encoding":{"x":{"datum":1676332800000,"type":"temporal","axis":null},"x2":{"datum":1738800000000},"y":{"datum":19.648,"type":"quantitative","axis":null}}},
{"data":{"name":"ONE"},"mark":{"type":"rule","color":"#808080","strokeWidth":1.4,"strokeDash":[12,4]},"encoding":{"x":{"datum":1676332800000,"type":"temporal","axis":null},"x2":{"datum":1738800000000},"y":{"datum":19.169,"type":"quantitative","axis":null}}},
{"data":{"name":"ONE"},"mark":{"type":"rule","color":"#808080","strokeWidth":1.2,"strokeDash":[1.5,2.5]},"encoding":{"x":{"datum":1676332800000,"type":"temporal","axis":null},"x2":{"datum":1738800000000},"y":{"datum":18.691,"type":"quantitative","axis":null}}},
{"data":{"name":"ONE"},"mark":{"type":"text","align":"right","baseline":"middle","fontSize":14.5,"lineHeight":14.25,"text":["DOAS uncertainty","statistical uncertainty","averages","linear fits","Zara period averages"]},
"encoding":{"x":{"datum":1661731200000,"type":"temporal","axis":null},"y":{"datum":20.605,"type":"quantitative","axis":null}}}
],
"resolve":{"axis":{"x":"independent","y":"independent"}}
}
]
}
